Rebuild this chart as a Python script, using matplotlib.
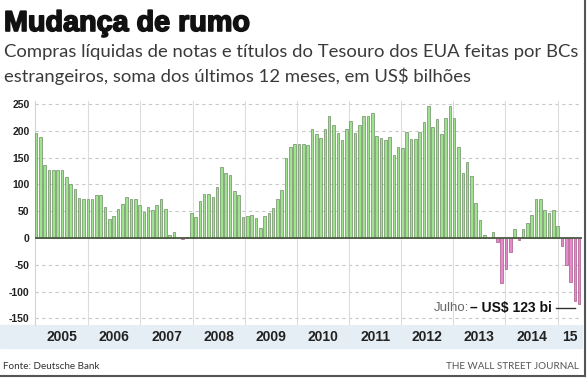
import numpy as np
import matplotlib
matplotlib.use("Agg")
import matplotlib.pyplot as plt
import matplotlib.patheffects as pe
from matplotlib import font_manager, transforms
from matplotlib.lines import Line2D
from matplotlib.patches import Rectangle

# net purchases, 12-month sum, US$ bn, Jan 2005 .. Jul 2015
monthly = [
    195, 189, 136, 126, 126, 126, 126, 114, 101, 92, 74, 73,      # 2005
    72, 72, 80, 80, 58, 36, 41, 55, 64, 77, 73, 73,               # 2006
    61, 49, 57, 53, 62, 72, 55, 5, 12, 0, -1, 1,                  # 2007
    46, 40, 69, 82, 82, 77, 95, 133, 122, 117, 87, 81,            # 2008
    39, 41, 43, 37, 18, 41, 47, 56, 72, 89, 150, 170,             # 2009
    175, 176, 176, 173, 204, 194, 186, 203, 227, 210, 195, 183,   # 2010
    203, 218, 195, 211, 227, 227, 233, 191, 187, 182, 188, 155,   # 2011
    169, 167, 197, 184, 184, 197, 216, 247, 207, 222, 194, 223,   # 2012
    246, 223, 169, 122, 142, 116, 66, 33, 6, 0, 11, -8,           # 2013
    -84, -58, -27, 17, -3, 17, 28, 43, 73, 73, 52, 47,            # 2014
    52, 22, -15, -50, -82, -117, -123,                            # 2015
]
year_labels = ["2005", "2006", "2007", "2008", "2009", "2010",
               "2011", "2012", "2013", "2014", "15"]
yticks = [250, 200, 150, 100, 50, 0, -50, -100, -150]

title = "Mudança de rumo"
subtitle = ["Compras líquidas de notas e títulos do Tesouro dos EUA feitas por BCs",
            "estrangeiros, soma dos últimos 12 meses, em US$ bilhões"]

installed = {f.name for f in font_manager.fontManager.ttflist}


def pick(*names):
    for n in names:
        if n in installed:
            return n
    return "DejaVu Sans"


SANS = pick("Liberation Sans", "DejaVu Sans")
NARROW = pick("Liberation Sans Narrow", "DejaVu Sans Condensed", "Lato", "Liberation Sans")

W, H = 587, 378


def fx(px):
    return px / W


def fy(py):
    return 1 - py / H


fig = plt.figure(figsize=(W / 100, H / 100), dpi=100)
renderer = fig.canvas.get_renderer()


def fit_text(x, y, s, width_px, size, **kw):
    # shrink/grow the font so the text spans about width_px
    t = fig.text(x, y, s, fontsize=size, **kw)
    w = t.get_window_extent(renderer).width
    t.set_fontsize(size * width_px / w)
    return t


# plot area
ax = fig.add_axes([fx(35), fy(325), fx(582) - fx(35), fy(101) - fy(325)])
x = np.arange(len(monthly))
face = ["#9fe38e" if v >= 0 else "#e58acb" for v in monthly]
edge = ["#6f8c68" if v >= 0 else "#a8588c" for v in monthly]
ax.bar(x, monthly, width=0.6, color=face, edgecolor=edge, linewidth=0.5, zorder=3)

ax.set_xlim(-0.25, 126.65)
ax.set_ylim(-162.3, 255.6)
ax.set_xticks([])
ax.set_yticks(yticks)
ax.set_yticklabels([str(t) for t in yticks], fontsize=7.5, fontweight="bold",
                   color="#222222", family=SANS)
ax.tick_params(axis="y", length=0, pad=4)
for s in ["top", "right", "bottom"]:
    ax.spines[s].set_visible(False)
ax.spines["left"].set_color("#d4d4d4")
ax.spines["left"].set_linewidth(0.8)

for g in yticks:
    if g != 0:
        ax.axhline(g, color="#c8c8c8", lw=0.8, ls=(0, (3, 3)), zorder=1)
ax.axhline(0, color="#4b5a41", lw=1.3, zorder=4)

# year separators (slightly more than 12 bars apart in the original)
bounds = [12.1 * j for j in range(1, len(year_labels))]
for b in bounds:
    ax.axvline(b, color="#dcdcdc", lw=0.8, zorder=1)

# year band
fig.add_artist(Rectangle((0, fy(348)), fx(582), fy(325) - fy(348),
                         transform=fig.transFigure, color="#e5edf5", zorder=0))
edges_x = [ax.get_xlim()[0]] + bounds + [ax.get_xlim()[1]]
trans = transforms.blended_transform_factory(ax.transData, fig.transFigure)
for i, lab in enumerate(year_labels):
    cx = (edges_x[i] + edges_x[i + 1]) / 2
    fig.text(cx, fy(337), lab, transform=trans, ha="center", va="center",
             fontsize=10, fontweight="bold", color="#222222", family=SANS)

# annotation for the last month
yv = -130.6
t = ax.text(119.6, yv, f"– US$ {abs(monthly[-1])} bi", ha="right", va="center",
            fontsize=10, fontweight="bold", color="#111111", family=SANS, zorder=6)
bb = t.get_window_extent(renderer)
fig.text(bb.x0 - 1, (bb.y0 + bb.y1) / 2, "Julho:", transform=transforms.IdentityTransform(),
         ha="right", va="center", fontsize=9.5, color="#666666", family=SANS)
ax.plot([120.6, len(monthly) - 2], [yv, yv], color="#333333", lw=1, zorder=6)

# titles
fit_text(fx(4), fy(31), title, 246, 22, ha="left", va="baseline",
         fontweight="bold", color="#111111", family=SANS,
         path_effects=[pe.withStroke(linewidth=1.2, foreground="#111111")])
fit_text(fx(4), fy(57), subtitle[0], 575, 15, ha="left", va="baseline",
         color="#3a3a3a", family=NARROW)
sub2 = fig.text(fx(4), fy(82), subtitle[1], ha="left", va="baseline",
                color="#3a3a3a", family=NARROW)
sub2.set_fontsize(fig.texts[-2].get_fontsize())

# footer
fit_text(fx(3), fy(369), "Fonte: Deutsche Bank", 97, 8, ha="left", va="baseline",
         color="#333333", family=NARROW)
fit_text(fx(579), fy(369), "THE WALL STREET JOURNAL", 133, 7.5, ha="right",
         va="baseline", color="#555555", family=NARROW)

# frame shadow on right and bottom edges
fig.add_artist(Line2D([fx(584.5), fx(584.5)], [fy(0), fy(376)],
                      transform=fig.transFigure, color="#555555", lw=1.5))
fig.add_artist(Line2D([fx(0), fx(585)], [fy(376), fy(376)],
                      transform=fig.transFigure, color="#555555", lw=1.5))

fig.savefig("out.png", dpi=100)
